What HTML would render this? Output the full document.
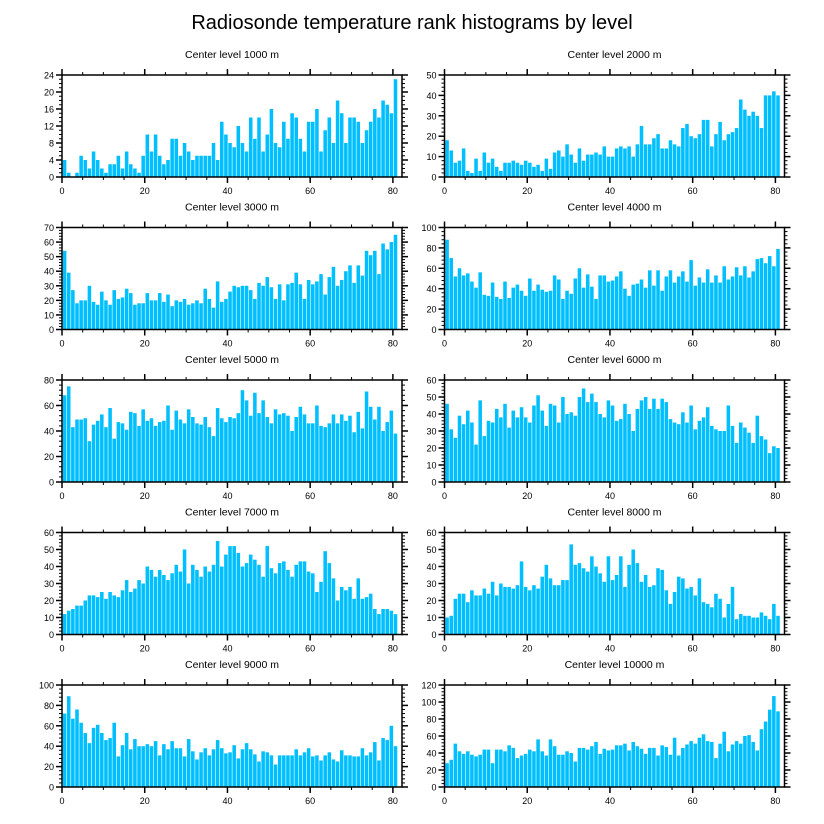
<!DOCTYPE html>
<html><head><meta charset="utf-8"><style>
html,body{margin:0;padding:0;background:#fff;}
svg{display:block;font-family:"Liberation Sans",sans-serif;}
</style></head><body>
<svg id="chart" width="824" height="824" viewBox="0 0 824 824">
<text x="412" y="29" text-anchor="middle" font-size="20" fill="#000">Radiosonde temperature rank histograms by level</text>
</svg>
<script>
const levels = ["1000","2000","3000","4000","5000","6000","7000","8000","9000","10000"];
const yMaxes = [24,50,70,100,80,60,60,60,100,120];
const ySteps = [4,10,10,20,20,10,10,10,20,20];
const xTicks = [0,20,40,60,80];
const counts1000 = [4,1,0,1,5,4,2,6,4,2,1,3,3,5,2,6,3,2,1,5,10,6,10,5,3,4,9,9,5,8,6,4,5,5,5,5,8,4,13,10,8,7,12,8,6,14,9,14,6,10,16,8,7,13,9,15,14,9,6,13,13,16,6,11,14,8,18,15,8,14,14,13,8,11,13,16,14,18,17,15,23];
const counts2000 = [18,13,7,8,14,3,2,9,3,12,7,9,5,3,7,7,8,7,6,8,7,5,6,3,9,4,12,13,10,16,11,7,14,8,11,11,12,11,15,10,10,14,15,14,15,10,16,25,16,16,19,21,14,14,18,16,15,24,26,20,19,21,28,28,15,21,27,18,21,22,24,38,33,30,32,30,24,40,40,42,40];
const counts3000 = [54,39,27,18,20,20,30,19,17,26,20,17,27,21,22,28,25,17,18,18,25,20,20,25,19,24,16,20,19,21,17,18,20,18,28,21,15,33,19,21,26,30,29,30,30,27,21,32,30,36,29,21,31,20,31,32,39,31,21,34,31,33,38,24,36,43,30,34,40,44,32,44,37,54,51,54,38,59,55,60,65];
const counts4000 = [88,70,52,60,53,55,47,41,56,34,33,46,32,30,47,31,41,44,38,33,50,38,44,39,37,38,53,49,30,38,35,50,60,41,54,42,30,53,53,47,48,52,57,40,33,44,45,49,41,58,43,58,38,52,58,46,52,57,47,68,43,51,46,59,46,53,46,62,49,52,61,53,62,51,57,69,70,65,72,62,79];
const counts5000 = [68,75,43,49,49,50,32,45,48,53,43,58,34,47,46,41,55,54,44,57,48,50,44,47,48,60,41,56,49,46,57,51,46,45,51,43,36,58,50,47,51,50,54,72,64,52,70,54,64,51,46,57,53,54,52,40,51,59,53,46,46,60,44,43,46,53,46,53,48,52,39,55,42,71,59,49,59,40,47,56,38];
const counts6000 = [46,31,26,39,34,42,35,22,48,27,36,35,43,38,46,32,42,38,44,38,35,45,51,42,33,46,45,35,50,40,41,39,50,55,47,52,47,40,38,48,45,36,37,46,40,30,43,48,50,43,49,43,49,47,37,35,34,41,35,45,31,36,38,44,33,31,30,30,45,33,23,35,32,29,23,39,27,25,17,21,20];
const counts7000 = [12,14,15,17,17,20,23,23,22,25,21,25,23,22,26,32,25,27,32,30,40,38,34,38,35,32,36,41,37,50,30,41,38,34,40,37,41,55,40,47,52,52,48,40,42,47,44,41,34,52,39,36,42,43,38,34,41,43,43,37,36,25,31,49,42,33,20,28,26,28,21,33,21,22,24,15,12,15,15,14,12];
const counts8000 = [10,11,21,24,24,19,26,23,23,27,24,31,23,30,28,28,27,29,43,28,26,29,27,34,41,33,29,29,32,32,53,41,42,39,37,46,40,36,31,46,32,35,46,28,41,50,42,31,35,28,29,39,38,26,18,25,34,33,27,28,23,33,19,18,16,24,21,10,18,28,9,12,11,11,10,10,13,11,9,18,11];
const counts9000 = [72,89,67,76,63,53,43,58,61,53,46,48,63,30,41,53,37,47,40,40,42,40,45,31,42,37,45,38,38,30,47,35,27,34,38,31,37,46,38,33,34,41,28,37,43,37,32,25,35,34,31,22,31,31,31,31,37,31,34,38,30,31,26,31,34,27,25,36,31,31,30,30,38,31,34,44,26,48,46,60,40];
const counts10000 = [28,32,51,42,39,42,38,36,38,44,44,28,44,44,42,49,46,34,37,39,44,42,56,42,37,56,48,38,38,42,40,30,46,46,44,48,53,39,45,43,44,49,49,51,43,53,48,45,39,46,46,37,49,47,38,58,37,46,50,54,51,58,62,54,53,34,51,65,42,50,54,51,60,61,53,43,68,77,91,107,89];
const allCounts = [counts1000,counts2000,counts3000,counts4000,counts5000,counts6000,counts7000,counts8000,counts9000,counts10000];

const NS = "http://www.w3.org/2000/svg";
const svg = document.getElementById("chart");
function mk(tag, attrs, parent){
  const e = document.createElementNS(NS, tag);
  for (const k in attrs) e.setAttribute(k, attrs[k]);
  (parent||svg).appendChild(e);
  return e;
}
const X0 = [62, 444.5];
const XMAX = 82.2;
const PW = 340;
const PH = 102;
const TOPS = [75, 227.5, 380, 532.5, 685];

allCounts.forEach((vals, p) => {
  const col = p % 2, row = Math.floor(p / 2);
  const left = X0[col], top = TOPS[row], bottom = top + PH, right = left + PW;
  const ymax = yMaxes[p], ystep = ySteps[p];
  const xs = v => left + v / XMAX * PW;
  const ys = v => bottom - v / ymax * PH;
  const g = mk("g", {});
  
  
  const t = mk("text", {x: left + PW/2, y: top - 17, "text-anchor": "middle", "font-size": "10.5"}, g);
  t.textContent = "Center level " + levels[p] + " m";
  
  
  const bars = mk("g", {}, g);
  
  
  vals.forEach((v, i) => {
    const x1 = xs(i + 0.2), x2 = xs(i + 1.2);
    const r = mk("rect", {x: x1, y: ys(v), width: Math.max(0, x2 - x1 - 0.6), height: bottom - ys(v), fill: "#00bfff"}, bars);
    
    
  });
  // ticks
  const tk = mk("g", {stroke: "#000", "stroke-width": "1"}, g);
  
  
  for (let v = 0; v <= 82; v += 5) {
    const major = v % 20 === 0;
    const L = major ? 6 : 3;
    const x = xs(v);
    mk("line", {x1: x, x2: x, y1: bottom, y2: bottom + L, "stroke-width": major ? 1.5 : 1}, tk);
    mk("line", {x1: x, x2: x, y1: top, y2: top - L, "stroke-width": major ? 1.5 : 1}, tk);
  }
  const minorN = (ystep === 4) ? 4 : 5;
  for (let k = 0; k * ystep / minorN <= ymax + 1e-9; k++) {
    const v = k * ystep / minorN;
    const major = k % minorN === 0;
    const L = major ? 6 : 3;
    const y = ys(v);
    mk("line", {x1: left, x2: left - L, y1: y, y2: y, "stroke-width": major ? 1.5 : 1}, tk);
    mk("line", {x1: right, x2: right + L, y1: y, y2: y, "stroke-width": major ? 1.5 : 1}, tk);
  }
  xTicks.forEach(v => {
    const lb = mk("text", {x: xs(v), y: bottom + 17, "text-anchor": "middle", "font-size": "9"}, g);
    lb.textContent = v;
    
    
  });
  for (let v = 0; v <= ymax; v += ystep) {
    const lb = mk("text", {x: left - 8, y: ys(v) + 3.5, "text-anchor": "end", "font-size": "9"}, g);
    lb.textContent = v;
    
    
  }
  const fr = mk("rect", {x: left, y: top, width: PW, height: PH, fill: "none", stroke: "#000", "stroke-width": "1.5"}, g);
  
  
});
</script>
</body></html>
